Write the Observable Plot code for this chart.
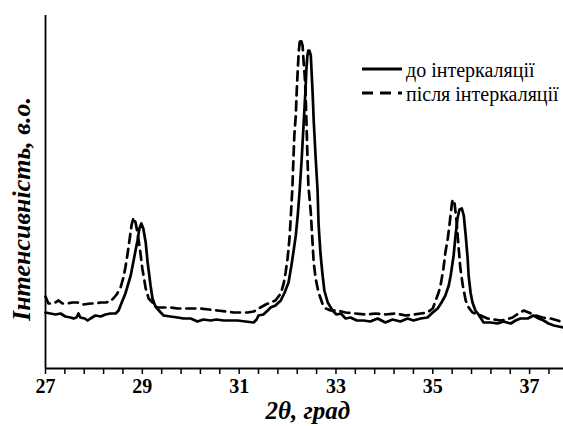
<!DOCTYPE html>
<html><head><meta charset="utf-8">
<script src="https://cdn.jsdelivr.net/npm/d3@7"></script>
<script src="https://cdn.jsdelivr.net/npm/@observablehq/plot@0.6"></script>
<style>
body{margin:0;background:#fff;}
#wrap{position:relative;width:563px;height:426px;overflow:hidden;}
#wrap > svg{display:block;}
.ttl{position:absolute;font-family:"Liberation Serif","Times New Roman","DejaVu Serif",serif;font-weight:bold;font-style:italic;color:#000;white-space:nowrap;line-height:1;}
</style></head><body><div id="wrap"></div>
<script>
// 2θ (degrees) and intensity (arb. units)
const seriesNames = ["до інтеркаляції", "після інтеркаляції"];
const xLabel = "2θ, град";
const yLabel = "Інтенсивність, в.о.";
const xDomain = [27, 37.7];
const yDomain = [0, 353];
const tickLabels = [27, 29, 31, 33, 35, 37];
const serifStack = "'Liberation Serif','Times New Roman','DejaVu Serif',serif";

const thetaBefore = [27.00,27.10,27.21,27.31,27.41,27.52,27.58,27.64,27.68,27.72,27.81,27.87,27.93,28.03,28.14,28.24,28.34,28.45,28.51,28.55,28.65,28.76,28.84,28.90,28.94,28.98,29.02,29.07,29.11,29.17,29.21,29.27,29.38,29.44,29.58,29.73,29.85,30.00,30.14,30.26,30.41,30.53,30.68,30.82,30.97,31.13,31.30,31.36,31.40,31.50,31.59,31.65,31.75,31.86,31.94,32.02,32.08,32.12,32.17,32.21,32.25,32.29,32.33,32.37,32.39,32.41,32.43,32.45,32.48,32.50,32.52,32.54,32.58,32.62,32.64,32.68,32.72,32.76,32.83,32.93,33.01,33.10,33.20,33.30,33.43,33.57,33.71,33.86,34.02,34.17,34.33,34.48,34.60,34.75,34.89,35.00,35.10,35.18,35.26,35.33,35.37,35.43,35.47,35.51,35.55,35.60,35.64,35.68,35.72,35.74,35.78,35.82,35.88,35.93,36.05,36.19,36.34,36.46,36.61,36.71,36.81,36.96,37.08,37.19,37.29,37.39,37.50,37.60,37.70];
const intensityBefore = [56,55,54,55,52,51,50,51,55,51,50,48,50,53,52,54,55,55,58,63,75,93,113,128,140,145,140,126,106,83,70,62,56,53,52,51,50,50,47,49,48,49,48,48,48,47,46,49,53,54,58,61,63,68,76,86,103,116,133,153,178,208,243,278,300,313,318,318,313,293,273,248,211,178,145,115,95,78,66,58,54,55,50,51,48,48,47,50,46,49,47,50,48,50,51,56,60,66,73,83,93,113,133,150,159,160,153,133,110,93,76,66,58,55,46,46,45,47,45,48,50,50,53,50,48,45,43,42,41];

const thetaAfter = [27.00,27.06,27.17,27.27,27.35,27.45,27.56,27.66,27.79,27.93,28.03,28.14,28.24,28.34,28.40,28.47,28.55,28.61,28.65,28.69,28.74,28.78,28.82,28.86,28.90,28.96,29.00,29.07,29.13,29.23,29.31,29.48,29.58,29.73,29.85,30.00,30.20,30.37,30.55,30.72,30.88,31.03,31.17,31.30,31.44,31.55,31.65,31.75,31.86,31.92,31.96,32.00,32.04,32.06,32.08,32.10,32.12,32.14,32.17,32.19,32.21,32.23,32.25,32.27,32.31,32.33,32.35,32.37,32.39,32.41,32.43,32.48,32.54,32.58,32.64,32.72,32.79,32.89,33.03,33.20,33.40,33.61,33.82,34.02,34.23,34.44,34.60,34.75,34.89,35.00,35.06,35.12,35.16,35.22,35.26,35.31,35.35,35.39,35.41,35.45,35.49,35.53,35.57,35.62,35.68,35.74,35.82,35.99,36.13,36.26,36.40,36.52,36.65,36.77,36.88,36.98,37.12,37.27,37.43,37.58,37.70];
const intensityAfter = [72,65,65,68,65,65,66,66,64,65,65,66,66,67,70,74,81,91,101,113,130,144,151,146,136,116,100,80,70,65,61,61,61,60,60,60,60,59,58,57,56,56,56,57,61,64,66,68,75,85,96,110,130,146,163,181,208,233,253,278,298,316,326,330,323,308,296,278,248,213,183,156,106,90,76,65,60,58,58,56,55,54,55,54,55,53,54,55,56,60,68,76,83,100,116,130,146,163,169,165,148,123,100,83,68,61,56,53,50,49,48,49,51,55,58,56,53,51,50,48,46];

const before = thetaBefore.map((t, i) => ({theta: t, intensity: intensityBefore[i]}));
const after = thetaAfter.map((t, i) => ({theta: t, intensity: intensityAfter[i]}));
const xTicks = d3.range(0, 27).map(i => +(xDomain[0] + i * 0.4).toFixed(2)).filter(v => v <= xDomain[1]);

const chart = Plot.plot({
  width: 563,
  height: 426,
  marginLeft: 45,
  marginRight: 0,
  marginTop: 15,
  marginBottom: 58,
  x: {domain: xDomain, axis: null},
  y: {domain: yDomain, axis: null},
  style: {background: "#fff", color: "#000"},
  marks: [
    Plot.line(after, {x: "theta", y: "intensity", stroke: "#000", strokeWidth: 2.7, strokeDasharray: "9,6", curve: "linear"}),
    Plot.line(before, {x: "theta", y: "intensity", stroke: "#000", strokeWidth: 2.7, curve: "linear"}),
    Plot.ruleX([xDomain[0]], {stroke: "#000", strokeWidth: 1.8}),
    Plot.ruleY([yDomain[0]], {stroke: "#000", strokeWidth: 1.8}),
    Plot.axisX({
      ticks: xTicks,
      tickSize: 6,
      tickPadding: 4,
      strokeWidth: 1.5,
      tickFormat: d => tickLabels.some(t => Math.abs(t - d) < 1e-6) ? String(Math.round(d)) : "",
      fontSize: 20,
      fontWeight: "bold",
      fontFamily: serifStack,
      label: null
    })
  ]
});
const wrap = document.getElementById("wrap");
wrap.appendChild(chart);

// axis titles
const xt = document.createElement("div");
xt.className = "ttl";
xt.style.fontSize = "25px";
xt.textContent = xLabel;
wrap.appendChild(xt);
xt.style.left = (308 - xt.offsetWidth / 2) + "px";
xt.style.top = "398px";

const yt = document.createElement("div");
yt.className = "ttl";
yt.style.fontSize = "26px";
yt.textContent = yLabel;
wrap.appendChild(yt);
const w = yt.offsetWidth, h = yt.offsetHeight;
yt.style.left = (22 - w / 2) + "px";
yt.style.top = (209 - h / 2) + "px";
yt.style.transform = "rotate(-90deg)";

// legend as an SVG overlay
const ns = "http://www.w3.org/2000/svg";
const lg = document.createElementNS(ns, "svg");
lg.setAttribute("width", "201");
lg.setAttribute("height", "60");
lg.style.cssText = "position:absolute;left:362px;top:55px;overflow:visible;";
const rows = [
  {name: seriesNames[0], dash: null, y: 14},
  {name: seriesNames[1], dash: "11,7", y: 38}
];
rows.forEach(r => {
  const ln = document.createElementNS(ns, "line");
  ln.setAttribute("x1", "0"); ln.setAttribute("x2", "40");
  ln.setAttribute("y1", r.y); ln.setAttribute("y2", r.y);
  ln.setAttribute("stroke", "#000"); ln.setAttribute("stroke-width", "3");
  if (r.dash) ln.setAttribute("stroke-dasharray", r.dash);
  lg.appendChild(ln);
  const tx = document.createElementNS(ns, "text");
  tx.setAttribute("x", "44");
  tx.setAttribute("y", r.y + 8);
  tx.style.fontFamily = serifStack;
  tx.setAttribute("font-size", "20");
  tx.setAttribute("fill", "#000");
  tx.textContent = r.name;
  lg.appendChild(tx);
});
wrap.appendChild(lg);
</script>
</body></html>
